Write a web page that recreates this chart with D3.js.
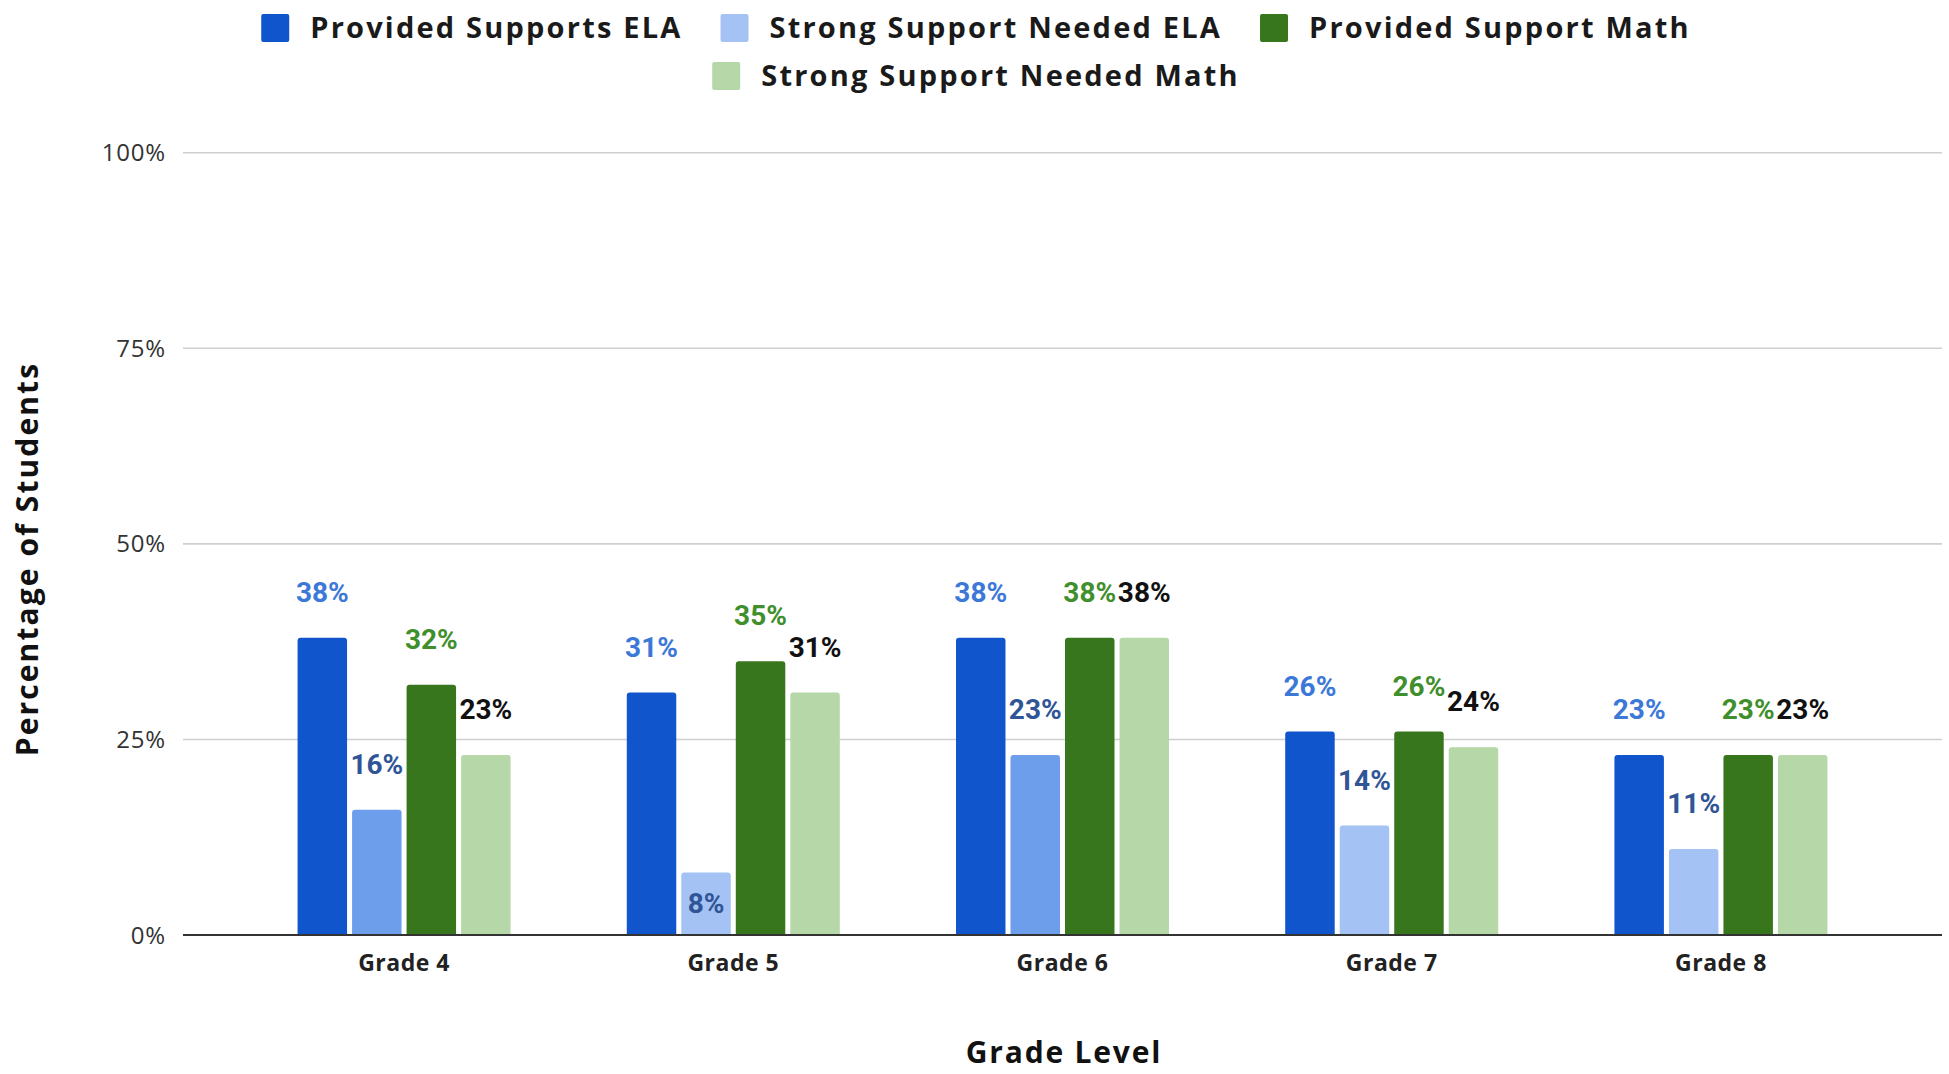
<!DOCTYPE html>
<html>
<head>
<meta charset="utf-8">
<script src="https://cdn.jsdelivr.net/npm/d3@7"></script>
<style>
  html, body { margin: 0; padding: 0; background: #ffffff; }
  svg { display: block; }
</style>
</head>
<body>
<svg id="chart" width="1949" height="1074"></svg>
<script>
// ---- Data ----
const grades = ["Grade 4", "Grade 5", "Grade 6", "Grade 7", "Grade 8"];
const seriesNames = ["Provided Supports ELA", "Strong Support Needed ELA", "Provided Support Math", "Strong Support Needed Math"];
const providedELA = [38, 31, 38, 26, 23];
const strongELA = [16, 8, 23, 14, 11];
const providedMath = [32, 35, 38, 26, 23];
const strongMath = [23, 31, 38, 24, 23];
const yTicks = [0, 25, 50, 75, 100];
const yTickLabels = ["0%", "25%", "50%", "75%", "100%"];
const yTitle = "Percentage of Students";
const xTitle = "Grade Level";

// ---- Styles ----
const seriesColors = ["#1155cc", "#a4c2f4", "#38761d", "#b6d7a8"];
const strongELAPointColors = ["#6d9eeb", "#a4c2f4", "#6d9eeb", "#a4c2f4", "#a4c2f4"];
const labelColors = ["#3c78d8", "#2f5597", "#3f8f2c", "#111111"];

const seriesValues = [providedELA, strongELA, providedMath, strongMath];

const svg = d3.select("#chart");
const plot = { left: 183, right: 1942, top: 152.7, bottom: 935 };

const y = d3.scaleLinear().domain([0, 100]).range([plot.bottom, plot.top]);
const x0 = d3.scaleBand().domain(grades).range([plot.left, plot.right])
  .paddingInner(0.353).paddingOuter(0.348);
const x1 = d3.scaleBand().domain(d3.range(seriesNames.length)).range([0, x0.bandwidth()])
  .paddingInner(0.092).paddingOuter(0);

// gridlines
svg.append("g").selectAll("line").data(yTicks.filter(t => t > 0)).join("line")
  .attr("x1", plot.left).attr("x2", plot.right)
  .attr("y1", d => y(d)).attr("y2", d => y(d))
  .attr("stroke", "#cfcfcf").attr("stroke-width", 1.6);

// y tick labels
svg.append("g").selectAll("text").data(yTicks).join("text")
  .attr("x", 166).attr("y", d => y(d))
  .attr("dy", "0.36em")
  .attr("text-anchor", "end")
  .attr("font-family", "'Open Sans', sans-serif")
  .attr("font-size", 24)
  .attr("letter-spacing", 0.8)
  .attr("fill", "#333")
  .text((d, i) => yTickLabels[i]);

// bars
function topRoundedRect(x, yTop, w, h, r) {
  r = Math.min(r, h, w / 2);
  return `M${x},${yTop + h} V${yTop + r} Q${x},${yTop} ${x + r},${yTop} H${x + w - r} Q${x + w},${yTop} ${x + w},${yTop + r} V${yTop + h} Z`;
}
const barData = [];
grades.forEach((g, gi) => {
  seriesValues.forEach((vals, si) => {
    barData.push({ grade: g, gi, si, value: vals[gi] });
  });
});
const bw = x1.bandwidth();
svg.append("g").selectAll("path").data(barData).join("path")
  .attr("d", d => {
    const bx = x0(d.grade) + x1(d.si);
    const by = y(d.value);
    return topRoundedRect(bx, by, bw, y(0) - by, 3);
  })
  .attr("fill", d => d.si === 1 ? strongELAPointColors[d.gi] : seriesColors[d.si]);

// baseline
svg.append("line")
  .attr("x1", plot.left).attr("x2", plot.right)
  .attr("y1", y(0)).attr("y2", y(0))
  .attr("stroke", "#333").attr("stroke-width", 2.2);

// data labels
svg.append("g").selectAll("text").data(barData).join("text")
  .attr("x", d => x0(d.grade) + x1(d.si) + bw / 2)
  .attr("y", d => d.value < 10 ? y(d.value) + 31 : y(d.value) - 46)
  .attr("dy", "0.36em")
  .attr("text-anchor", "middle")
  .attr("font-family", "Roboto, sans-serif")
  .attr("font-weight", 700)
  .attr("font-size", 28)
  .attr("fill", d => labelColors[d.si])
  .text(d => d.value + "%");

// x tick labels
svg.append("g").selectAll("text").data(grades).join("text")
  .attr("x", d => x0(d) + x0.bandwidth() / 2)
  .attr("y", 963)
  .attr("dy", "0.36em")
  .attr("text-anchor", "middle")
  .attr("font-family", "'Open Sans', sans-serif")
  .attr("font-weight", 700)
  .attr("font-size", 23)
  .attr("letter-spacing", 0.5)
  .attr("fill", "#222")
  .text(d => d);

// axis titles
svg.append("text")
  .attr("x", 1064)
  .attr("y", 1052)
  .attr("dy", "0.36em")
  .attr("text-anchor", "middle")
  .attr("font-family", "'Open Sans', sans-serif")
  .attr("font-weight", 700)
  .attr("font-size", 30)
  .attr("letter-spacing", 1.8)
  .attr("fill", "#111")
  .text(xTitle);

svg.append("text")
  .attr("transform", "translate(27,559) rotate(-90)")
  .attr("dy", "0.36em")
  .attr("text-anchor", "middle")
  .attr("font-family", "'Open Sans', sans-serif")
  .attr("font-weight", 700)
  .attr("font-size", 30)
  .attr("letter-spacing", 2.1)
  .attr("fill", "#111")
  .text(yTitle);

// legend
const legendRows = [[0, 1, 2], [3]];
const legendRowY = [28, 76];
const sq = 28, sqGap = 21, itemGap = 38, legendCenter = 976;
const legend = svg.append("g");
legendRows.forEach((row, ri) => {
  const g = legend.append("g");
  let cx = 0;
  row.forEach(si => {
    g.append("rect").attr("x", cx).attr("y", legendRowY[ri] - sq / 2)
      .attr("width", sq).attr("height", sq).attr("rx", 2)
      .attr("fill", seriesColors[si]);
    const t = g.append("text").attr("x", cx + sq + sqGap).attr("y", legendRowY[ri])
      .attr("dy", "0.36em")
      .attr("font-family", "'Open Sans', sans-serif")
      .attr("font-weight", 700)
      .attr("font-size", 29)
      .attr("letter-spacing", 2.2)
      .attr("fill", "#1a1a1a")
      .text(seriesNames[si]);
    cx += sq + sqGap + t.node().getComputedTextLength() + itemGap;
  });
  const total = cx - itemGap;
  g.attr("transform", `translate(${legendCenter - total / 2},0)`);
});
</script>
</body>
</html>
